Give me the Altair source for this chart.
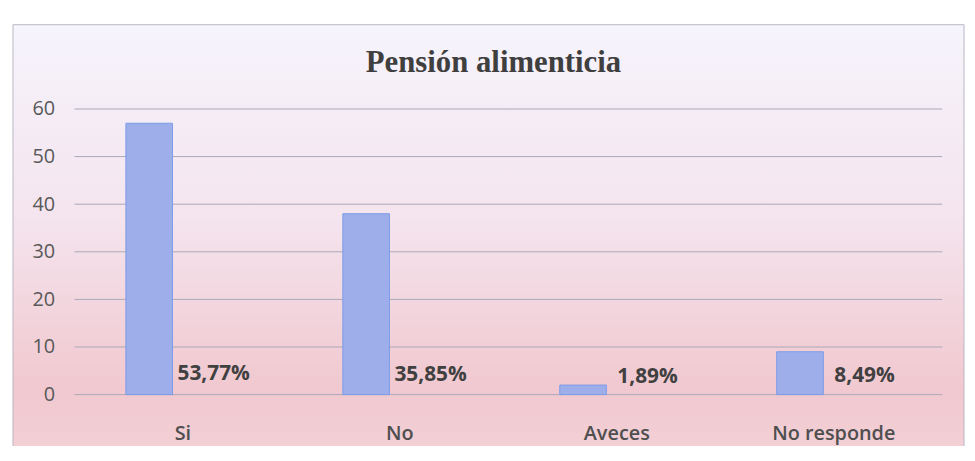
import altair as alt
import pandas as pd

categories = ["Si", "No", "Aveces", "No responde"]
counts = [57, 38, 2, 9]
pct_values = [53.77, 35.85, 1.89, 8.49]
pct_labels = ["53,77%", "35,85%", "1,89%", "8,49%"]
y_ticks = [0, 10, 20, 30, 40, 50, 60]

df = pd.DataFrame({
    "cat": categories,
    "count": counts,
    "pct": [p / 100 for p in pct_values],
    "label": pct_labels,
})
grid_df = pd.DataFrame({"t": y_ticks})
bg_df = pd.DataFrame({"k": [0]})

W, H = 875, 288
yscale = alt.Scale(domain=[0, 60], nice=False, zero=True)
xscale = alt.Scale(paddingInner=0, paddingOuter=0)

yaxis = alt.Axis(
    values=y_ticks, grid=False, domain=False, ticks=False,
    labelFont="Open Sans", labelFontSize=20, labelColor="#595959",
    labelPadding=20, title=None, zindex=2,
)
xaxis = alt.Axis(
    title=None, domain=False, ticks=False, labelAngle=0,
    labelFont="Open Sans", labelFontSize=20, labelFontWeight=600,
    labelColor="#4F4F4F", labelPadding=29, zindex=2,
)

bg = alt.Chart(bg_df).mark_rect(
    fill=alt.LinearGradient(
        gradient="linear",
        stops=[
            alt.GradientStop(color="#F6F4FC", offset=0),
            alt.GradientStop(color="#F4E4EE", offset=0.45),
            alt.GradientStop(color="#F1C8CF", offset=0.85),
            alt.GradientStop(color="#F3D0D7", offset=1),
        ],
        x1=0, x2=0, y1=0, y2=1,
    ),
    stroke="#B9B6C4",
    strokeWidth=1,
).encode(
    x=alt.value(-62), x2=alt.value(897),
    y=alt.value(-85), y2=alt.value(348),
)

grid = alt.Chart(grid_df).mark_rule(color="#A9A8B8", strokeWidth=1).encode(
    y=alt.Y("t:Q", scale=yscale, axis=yaxis),
    x=alt.value(0), x2=alt.value(W),
)

bars = alt.Chart(df).mark_bar(
    width=47, xOffset=-34, color="#9DAEEA", stroke="#7B9CE8", strokeWidth=1
).encode(
    x=alt.X("cat:N", sort=categories, scale=xscale, axis=xaxis),
    y=alt.Y("count:Q", scale=yscale, axis=yaxis),
)

texts = alt.Chart(df).mark_text(
    font="Open Sans", fontSize=21, fontWeight="bold", color="#404040",
    xOffset=31, baseline="bottom", dy=-8, align="center",
).encode(
    x=alt.X("cat:N", sort=categories, scale=xscale, axis=xaxis),
    y=alt.Y("pct:Q", scale=yscale, axis=yaxis),
    text="label:N",
)

chart = alt.layer(bg, grid, bars, texts).properties(
    width=W, height=H,
    title=alt.TitleParams(
        "Pensión alimenticia", font="Liberation Serif", fontSize=31,
        fontWeight="bold", color="#3F3F3F", anchor="middle", offset=-55, dx=-15,
        zindex=2,
    ),
    autosize=alt.AutoSizeParams(type="none"),
    padding={"left": 67, "top": 100, "right": 25, "bottom": 50},
).configure_view(stroke=None).configure(background="white")

chart.save("out.html", embed_options={"renderer": "svg", "actions": False})
